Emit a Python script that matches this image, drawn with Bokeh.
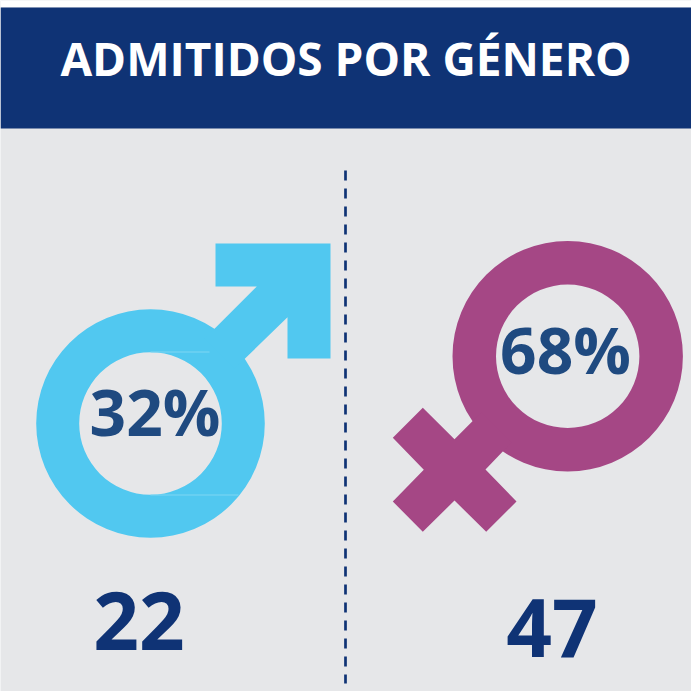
from bokeh.plotting import figure
from bokeh.embed import file_html
from bokeh.resources import INLINE
from bokeh.core.properties import value
from bokeh.models import Range1d

title_text = ["ADMITIDOS POR GÉNERO"]
genders = ["Masculino", "Femenino"]
percent_labels = ["32%", "68%"]
count_labels = ["22", "47"]

BG = "#e6e7e9"; NAVY = "#0f3375"; BLUE = "#51c8f0"; PURPLE = "#a54785"; PCT = "#1f4a80"
FONT = value("Open Sans")

p = figure(width=691, height=691, output_backend="svg", toolbar_location=None,
           x_range=Range1d(0, 691), y_range=Range1d(691, 0), min_border=0,
           x_axis_type=None, y_axis_type=None, background_fill_color=BG,
           border_fill_color=BG, outline_line_color=None)
p.grid.visible = False

p.quad(left=[0], right=[691], top=[0], bottom=[7], fill_color="#ffffff", line_color=None)
p.quad(left=[0], right=[691], top=[7], bottom=[128], fill_color=NAVY, line_color=None)

p.line(x=[345, 345], y=[170, 683], line_color=NAVY, line_width=2.7, line_dash="10 8")

# male symbol
p.annulus(x=[150], y=[423], inner_radius=71.3, outer_radius=114.3, fill_color=BLUE, line_color=None)
p.patch(x=[215, 330, 330, 287, 287, 244.3, 234, 204, 214, 256.3, 215],
        y=[243, 243, 358, 358, 316.7, 358.3, 368, 338, 328.3, 286, 286],
        fill_color=BLUE, line_color=None)
p.segment(x0=[150, 150], y0=[351.5, 494.5], x1=[209, 238], y1=[351.5, 494.5],
          line_color="#7fd6f3", line_width=1)

# female symbol
p.annulus(x=[567.2], y=[355.8], inner_radius=71.7, outer_radius=115.2, fill_color=PURPLE, line_color=None)
p.patch(x=[422.3, 454, 471.7, 481, 511, 502, 485, 516, 485.7, 454, 422.3, 392.3, 423.3, 392.3],
        y=[407.3, 438.7, 421, 412, 442, 451.3, 469, 501, 531.3, 500, 531.3, 501, 469.3, 437.3],
        fill_color=PURPLE, line_color=None)

def label(x, y, text, size, color):
    p.text(x=[x], y=[y], text=[text], text_font=FONT, text_font_style="bold",
           text_font_size=size, text_color=color, text_align="center", text_baseline="alphabetic")

label(345.5, 57, title_text[0], "46px", "#ffffff")
label(154.5, 411, percent_labels[0], "64px", PCT)
label(565, 349, percent_labels[1], "64px", PCT)
label(138.5, 620, count_labels[0], "80px", NAVY)
label(551.5, 627, count_labels[1], "80px", NAVY)

open("out.html", "w").write(file_html(p, INLINE))
